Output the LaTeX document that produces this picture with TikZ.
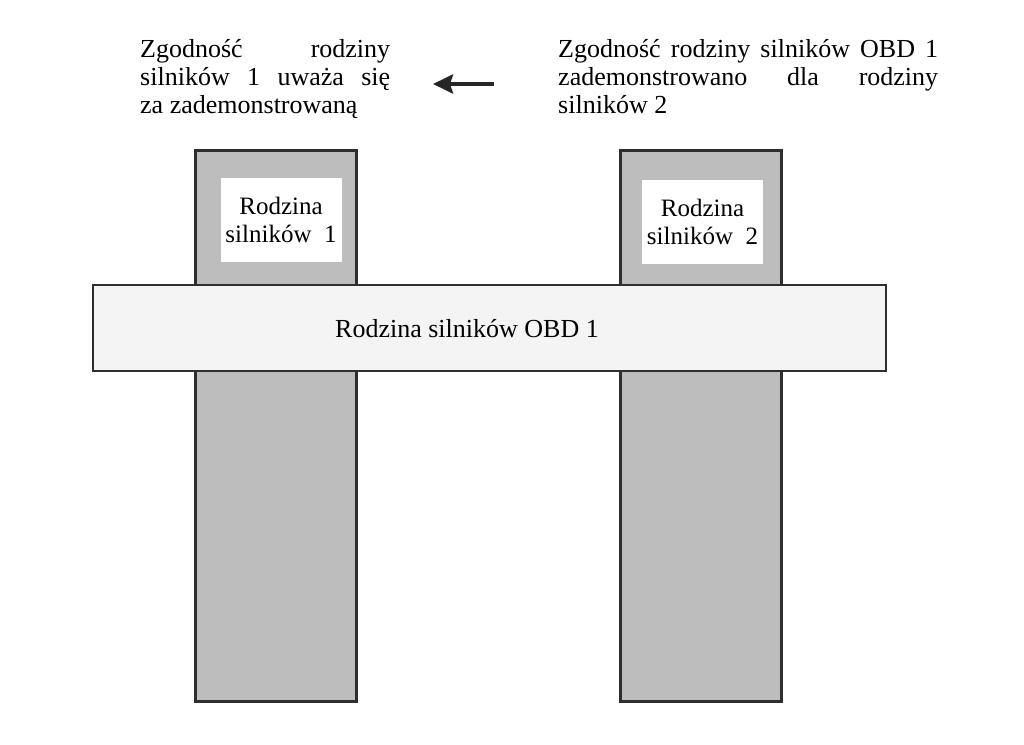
\documentclass[tikz,border=0pt]{standalone}
\usepackage{fontspec}
\setmainfont{Liberation Serif}
\usepackage{tikz}
\usetikzlibrary{positioning, arrows.meta}

\definecolor{colfill}{HTML}{BDBDBD}
\definecolor{bandfill}{HTML}{F4F4F4}
\definecolor{edgegray}{HTML}{2E2E2E}

\begin{document}
\begin{tikzpicture}[
        x=1pt, y=-1pt,
        column/.style={rectangle, draw=edgegray, fill=colfill, line width=3pt, minimum width=161pt, minimum height=551pt, inner sep=0pt},
        labelbox/.style={rectangle, fill=white, minimum width=121pt, minimum height=84pt, align=center, inner sep=0pt, font=\fontsize{25}{28}\selectfont},
        band/.style={rectangle, draw=edgegray, fill=bandfill, line width=2.5pt, minimum width=793pt, minimum height=86pt, inner sep=0pt},
        bandtext/.style={inner sep=0pt, font=\fontsize{26}{28}\selectfont},
        caption/.style={align=left, inner sep=0pt, anchor=north west, font=\fontsize{26}{28}\selectfont},
        arrow/.style={-{Stealth[length=20pt, width=19pt, inset=3pt]}, line width=4pt, black!85},
    ]
        \useasboundingbox (0,0) rectangle (1024,744);

        % ====== kolumny: rodziny silników ======
        \node[column] (col1) at (275.5,425.5) {};
        \node[column] (col2) at (701,425.5)   {};

        \node[labelbox] (fam1) at (281,220)   {Rodzina\\silników\ \ 1};
        \node[labelbox] (fam2) at (702.5,221.5) {Rodzina\\silników\ \ 2};

        % ====== pas poziomy: rodzina OBD ======
        \node[band] (obd) at (489.5,328) {};
        \node[bandtext] (obdtxt) at (467,329) {Rodzina silników OBD 1};

        % ====== opisy nad kolumnami ======
        \node[caption] (ltxt) at (140,39)
            {\makebox[250pt][s]{Zgodność rodziny}\\
             \makebox[250pt][s]{silników 1 uważa się}\\
             za zademonstrowaną};
        \node[caption] (rtxt) at (558,39)
            {\makebox[380pt][s]{Zgodność rodziny silników OBD 1}\\
             \makebox[380pt][s]{zademonstrowano dla rodziny}\\
             silników 2};

        % ====== strzałka ======
        \coordinate (arrS) at (494,84);
        \coordinate (arrE) at (433,84);
        \draw[arrow] (arrS) -- (arrE);
\end{tikzpicture}
\end{document}
